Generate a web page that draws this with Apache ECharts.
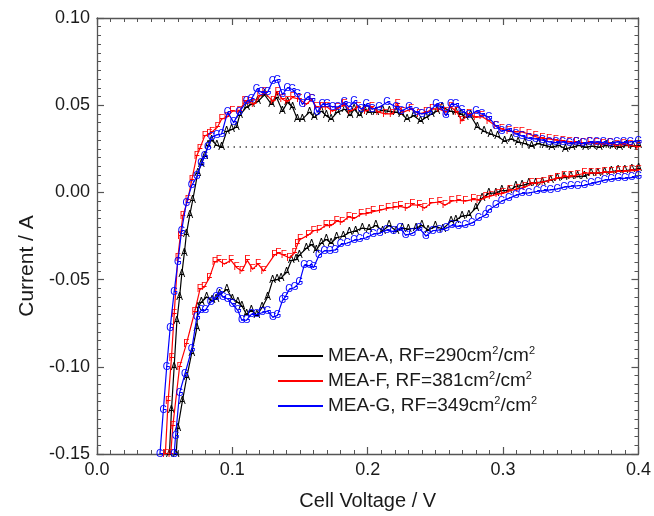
<!DOCTYPE html>
<html>
<head>
<meta charset="utf-8">
<script src="https://cdn.jsdelivr.net/npm/echarts@6/dist/echarts.min.js"></script>
<style>
  html, body { margin: 0; padding: 0; background: #fff; }
  #chart { width: 654px; height: 516px; }
</style>
</head>
<body>
<div id="chart"></div>
<script>
const seriesNames = ["MEA-A", "MEA-F", "MEA-G"];
const roughness = [290, 381, 349];
const markerLetters = ["A", "F", "G"];
const seriesColors = ["#000000", "#ff0000", "#0000ff"];

// MEA-A, [voltage, current]: forward sweep up to 0.4 V, then the return sweep
const meaAForward = [
  [0.0535,-0.15],[0.0550,-0.125],[0.0570,-0.10],[0.0590,-0.074],[0.0610,-0.060],[0.0626,-0.047],[0.0645,-0.035],
  [0.0660,-0.024],[0.0685,-0.013],[0.0707,-0.0045],[0.0744,0.011],[0.0770,0.016],[0.0796,0.021],[0.0820,0.027],
  [0.0847,0.030],[0.0885,0.027],[0.0920,0.026],[0.0958,0.035],[0.0994,0.036],[0.1030,0.0375],[0.1053,0.044],
  [0.1105,0.049],[0.1142,0.0505],[0.1186,0.052],[0.1238,0.056],[0.1289,0.0505],[0.1326,0.0545],[0.1370,0.0466],
  [0.1407,0.0517],[0.1444,0.049],[0.1480,0.042],[0.1517,0.042],[0.1570,0.046],[0.1606,0.043],[0.1657,0.0466],
  [0.1694,0.044],[0.1730,0.042],[0.1775,0.046],[0.1830,0.0477],[0.1870,0.044],[0.1900,0.0477],[0.1940,0.044],
  [0.1975,0.0477],[0.2010,0.046],[0.2060,0.046],[0.2110,0.047],[0.2160,0.0465],[0.2210,0.046],[0.2250,0.045],
  [0.2290,0.042],[0.2340,0.044],[0.2390,0.041],[0.2430,0.043],[0.2470,0.045],[0.2510,0.0466],[0.2550,0.049],
  [0.2610,0.0466],[0.2650,0.046],[0.2690,0.045],[0.2720,0.043],[0.2760,0.044],[0.2810,0.0375],[0.2860,0.035],
  [0.2910,0.0335],[0.2960,0.032],[0.3010,0.0295],[0.3060,0.0307],[0.3110,0.029],[0.3160,0.028],[0.3210,0.0267],
  [0.3260,0.028],[0.3310,0.027],[0.3360,0.026],[0.3410,0.027],[0.3460,0.025],[0.3510,0.026],[0.3560,0.027],
  [0.3610,0.026],[0.3660,0.0265],[0.3710,0.026],[0.3760,0.027],[0.3810,0.0265],[0.3860,0.026],[0.3910,0.027],
  [0.3960,0.0265],[0.4000,0.027]
];
const meaAReturn = [
  [0.4000,0.0136],[0.3950,0.013],[0.3900,0.0125],[0.3850,0.0125],[0.3800,0.012],[0.3750,0.0115],[0.3700,0.011],
  [0.3650,0.011],[0.3600,0.0095],[0.3550,0.009],[0.3500,0.009],[0.3450,0.0085],[0.3400,0.008],[0.3350,0.007],
  [0.3290,0.006],[0.3240,0.0055],[0.3190,0.005],[0.3140,0.004],[0.3094,0.0034],[0.3042,0.001],[0.2990,0.001],
  [0.2946,-0.0003],[0.2895,-0.0006],[0.2844,-0.0034],[0.2799,-0.009],[0.2747,-0.013],[0.2696,-0.0136],
  [0.2650,-0.016],[0.2615,-0.0165],[0.2555,-0.021],[0.2500,-0.0195],[0.2445,-0.0216],[0.2400,-0.019],
  [0.2357,-0.0205],[0.2300,-0.021],[0.2255,-0.0205],[0.2210,-0.022],[0.2158,-0.019],[0.2110,-0.022],
  [0.2060,-0.019],[0.2010,-0.021],[0.1960,-0.0205],[0.1910,-0.022],[0.1864,-0.023],[0.1820,-0.025],
  [0.1770,-0.026],[0.1730,-0.029],[0.1694,-0.027],[0.1657,-0.029],[0.1620,-0.033],[0.1585,-0.030],
  [0.1547,-0.032],[0.1495,-0.036],[0.1470,-0.0386],[0.1436,-0.039],[0.1400,-0.046],[0.1360,-0.049],
  [0.1330,-0.050],[0.1297,-0.0506],[0.1260,-0.060],[0.1220,-0.066],[0.1180,-0.0705],[0.1140,-0.0676],
  [0.1105,-0.070],[0.1070,-0.065],[0.1040,-0.063],[0.1000,-0.061],[0.0960,-0.0557],[0.0906,-0.0585],
  [0.0880,-0.061],[0.0850,-0.062],[0.0810,-0.060],[0.0770,-0.063],[0.0744,-0.066],[0.0737,-0.078],
  [0.0700,-0.092],[0.0663,-0.106],[0.0630,-0.120],[0.0597,-0.135],[0.0585,-0.15]
];

// MEA-F
const meaFForward = [
  [0.0505,-0.15],[0.0525,-0.12],[0.0550,-0.095],[0.0570,-0.070],[0.0597,-0.0375],[0.0615,-0.025],[0.0634,-0.0136],
  [0.0670,-0.0045],[0.0700,0.007],[0.0737,0.021],[0.0759,0.025],[0.0796,0.0324],[0.0830,0.0335],[0.0850,0.0347],
  [0.0890,0.0375],[0.0920,0.042],[0.0958,0.043],[0.1000,0.0466],[0.1053,0.0466],[0.1090,0.052],[0.1127,0.0517],
  [0.1160,0.0505],[0.1200,0.055],[0.1238,0.0574],[0.1300,0.052],[0.1333,0.0574],[0.1370,0.0534],[0.1407,0.052],
  [0.1444,0.0545],[0.1495,0.0534],[0.1547,0.0505],[0.1584,0.0534],[0.1620,0.049],[0.1665,0.049],[0.1700,0.049],
  [0.1738,0.0466],[0.1775,0.048],[0.1827,0.0505],[0.1870,0.0466],[0.1930,0.049],[0.1990,0.0466],[0.2030,0.049],
  [0.2080,0.046],[0.2130,0.045],[0.2180,0.045],[0.2220,0.0505],[0.2260,0.046],[0.2320,0.0477],[0.2380,0.045],
  [0.2430,0.046],[0.2475,0.0477],[0.2530,0.0477],[0.2578,0.046],[0.2615,0.049],[0.2660,0.046],[0.2696,0.041],
  [0.2748,0.045],[0.2800,0.043],[0.2843,0.0435],[0.2895,0.041],[0.2947,0.038],[0.2990,0.0364],[0.3042,0.035],
  [0.3094,0.0347],[0.3138,0.0347],[0.3190,0.0335],[0.3240,0.032],[0.3290,0.031],[0.3340,0.0307],[0.3390,0.030],
  [0.3440,0.0295],[0.3490,0.029],[0.3540,0.0285],[0.3590,0.028],[0.3640,0.0285],[0.3690,0.028],[0.3740,0.0275],
  [0.3790,0.028],[0.3840,0.027],[0.3890,0.0275],[0.3940,0.027],[0.4000,0.026]
];
const meaFReturn = [
  [0.4000,0.0125],[0.3950,0.0125],[0.3900,0.012],[0.3850,0.012],[0.3800,0.0115],[0.3750,0.0115],[0.3700,0.011],
  [0.3650,0.011],[0.3600,0.011],[0.3550,0.010],[0.3500,0.009],[0.3450,0.009],[0.3400,0.008],[0.3350,0.007],
  [0.3300,0.006],[0.3260,0.0055],[0.3210,0.005],[0.3160,0.003],[0.3110,0.002],[0.3050,0.001],[0.3000,-0.0006],
  [0.2960,-0.001],[0.2910,-0.002],[0.2870,-0.003],[0.2820,-0.0045],[0.2780,-0.004],[0.2720,-0.005],
  [0.2670,-0.0045],[0.2620,-0.005],[0.2570,-0.0074],[0.2530,-0.0055],[0.2470,-0.006],[0.2420,-0.009],
  [0.2380,-0.0075],[0.2330,-0.007],[0.2290,-0.009],[0.2240,-0.008],[0.2200,-0.0085],[0.2150,-0.009],
  [0.2100,-0.010],[0.2040,-0.011],[0.2000,-0.012],[0.1950,-0.0125],[0.1900,-0.015],[0.1860,-0.014],
  [0.1810,-0.017],[0.1770,-0.0165],[0.1730,-0.019],[0.1690,-0.019],[0.1640,-0.0215],[0.1600,-0.022],
  [0.1560,-0.0245],[0.1500,-0.027],[0.1480,-0.030],[0.1460,-0.0347],[0.1420,-0.0375],[0.1380,-0.036],
  [0.1340,-0.0347],[0.1310,-0.036],[0.1230,-0.045],[0.1190,-0.041],[0.1150,-0.044],[0.1110,-0.039],
  [0.1070,-0.045],[0.1030,-0.043],[0.0990,-0.039],[0.0940,-0.041],[0.0900,-0.039],[0.0870,-0.040],
  [0.0830,-0.049],[0.0790,-0.0545],[0.0760,-0.0557],[0.0720,-0.069],[0.0660,-0.087],[0.0610,-0.100],
  [0.0560,-0.134],[0.0545,-0.15]
];

// MEA-G
const meaGForward = [
  [0.0465,-0.15],[0.0490,-0.125],[0.0515,-0.10],[0.0540,-0.078],[0.0570,-0.057],[0.0597,-0.04],[0.0625,-0.022],
  [0.0660,-0.006],[0.0700,0.004],[0.0737,0.009],[0.0770,0.017],[0.0796,0.021],[0.0820,0.026],[0.0847,0.0318],
  [0.0885,0.033],[0.0920,0.0335],[0.0965,0.046],[0.1010,0.040],[0.1050,0.046],[0.1105,0.052],[0.1140,0.0534],
  [0.1180,0.059],[0.1215,0.0574],[0.1260,0.0574],[0.1297,0.0636],[0.1333,0.0645],[0.1370,0.056],[0.1407,0.060],
  [0.1444,0.059],[0.1480,0.056],[0.1517,0.0505],[0.1554,0.0545],[0.1590,0.0534],[0.1627,0.046],[0.1665,0.0505],
  [0.1700,0.0505],[0.1740,0.049],[0.1780,0.049],[0.1827,0.0517],[0.1860,0.049],[0.1900,0.052],[0.1952,0.0477],
  [0.1990,0.0505],[0.2033,0.0477],[0.2085,0.049],[0.2144,0.0517],[0.2210,0.049],[0.2247,0.0466],[0.2306,0.049],
  [0.2357,0.046],[0.2400,0.045],[0.2453,0.046],[0.2505,0.0505],[0.2541,0.049],[0.2578,0.044],[0.2615,0.0505],
  [0.2652,0.0505],[0.2696,0.047],[0.2748,0.044],[0.2800,0.0466],[0.2843,0.045],[0.2895,0.043],[0.2947,0.038],
  [0.2990,0.035],[0.3042,0.0364],[0.3094,0.0335],[0.3138,0.0324],[0.3190,0.031],[0.3240,0.0307],[0.3290,0.030],
  [0.3340,0.029],[0.3390,0.0285],[0.3440,0.029],[0.3490,0.028],[0.3540,0.0285],[0.3590,0.028],[0.3640,0.0285],
  [0.3690,0.029],[0.3740,0.0285],[0.3790,0.028],[0.3840,0.029],[0.3890,0.0285],[0.3940,0.029],[0.4000,0.0295]
];
const meaGReturn = [
  [0.4000,0.009],[0.3950,0.0085],[0.3900,0.008],[0.3850,0.008],[0.3800,0.0075],[0.3750,0.007],[0.3700,0.006],
  [0.3650,0.005],[0.3600,0.004],[0.3550,0.0038],[0.3500,0.0034],[0.3450,0.003],[0.3400,0.002],[0.3350,0.0015],
  [0.3300,0.001],[0.3250,0.0005],[0.3190,-0.0003],[0.3138,-0.0006],[0.3094,-0.0017],[0.3042,-0.0034],
  [0.2990,-0.005],[0.2947,-0.0074],[0.2895,-0.010],[0.2870,-0.013],[0.2820,-0.015],[0.2770,-0.0175],
  [0.2720,-0.019],[0.2670,-0.0195],[0.2620,-0.019],[0.2580,-0.0205],[0.2530,-0.0215],[0.2480,-0.022],
  [0.2430,-0.025],[0.2380,-0.0205],[0.2330,-0.0235],[0.2280,-0.0245],[0.2240,-0.0205],[0.2190,-0.0225],
  [0.2140,-0.0216],[0.2090,-0.0233],[0.2040,-0.024],[0.1990,-0.026],[0.1940,-0.027],[0.1900,-0.0275],
  [0.1850,-0.029],[0.1800,-0.030],[0.1760,-0.033],[0.1720,-0.0335],[0.1680,-0.0335],[0.1640,-0.036],
  [0.1600,-0.043],[0.1570,-0.042],[0.1530,-0.042],[0.1495,-0.0517],[0.1460,-0.0545],[0.1420,-0.0557],
  [0.1390,-0.060],[0.1370,-0.062],[0.1333,-0.0705],[0.1300,-0.0716],[0.1260,-0.068],[0.1220,-0.069],
  [0.1180,-0.070],[0.1140,-0.070],[0.1105,-0.0733],[0.1070,-0.0733],[0.1040,-0.0676],[0.1000,-0.064],
  [0.0965,-0.061],[0.0930,-0.060],[0.0906,-0.0574],[0.0880,-0.060],[0.0840,-0.063],[0.0800,-0.0676],
  [0.0770,-0.0676],[0.0737,-0.0716],[0.0700,-0.090],[0.0650,-0.104],[0.0610,-0.115],[0.0580,-0.140],
  [0.0570,-0.15]
];

const dottedBaseline = [[0.092, 0.026], [0.4, 0.026]];

const xTicks = { min: 0, max: 0.4, step: 0.1 };
const yTicks = { min: -0.15, max: 0.10, step: 0.05 };

const FONT = "Liberation Sans, Arial, sans-serif";
const chart = echarts.init(document.getElementById("chart"));

function frameAxis(position, range, decimals, showLabels) {
  return {
    type: "value",
    position,
    min: range.min,
    max: range.max,
    interval: range.step,
    axisLine: { show: true, onZero: false, lineStyle: { color: "#555", width: 1.3 } },
    axisTick: { show: true, inside: true, length: 7, lineStyle: { color: "#555", width: 1.2 } },
    minorTick: { show: true, splitNumber: 10, length: 4, lineStyle: { color: "#555", width: 1 } },
    splitLine: { show: false },
    axisLabel: {
      show: showLabels,
      color: "#1a1a1a",
      fontSize: 18,
      fontFamily: FONT,
      margin: 7,
      formatter: (v) => v.toFixed(decimals)
    }
  };
}

// a gap between the two sweeps so the turn at 0.4 V is not drawn over the frame
const sweeps = [
  meaAForward.concat([["-", "-"]], meaAReturn),
  meaFForward.concat([["-", "-"]], meaFReturn),
  meaGForward.concat([["-", "-"]], meaGReturn)
];

const curveSeries = sweeps.map((points, i) => ({
  name: seriesNames[i],
  type: "line",
  data: points,
  symbol: "circle",
  symbolSize: 1,
  showSymbol: true,
  connectNulls: false,
  lineStyle: { color: seriesColors[i], width: 1.2 },
  itemStyle: { color: seriesColors[i] },
  label: {
    show: true,
    position: "inside",
    formatter: markerLetters[i],
    color: seriesColors[i],
    fontSize: 10,
    fontFamily: FONT
  },
  emphasis: { disabled: true },
  z: 2 + i
}));

chart.setOption({
  animation: false,
  backgroundColor: "#ffffff",
  grid: { left: 97, right: 14, top: 18, bottom: 58 },
  xAxis: [
    Object.assign(frameAxis("bottom", xTicks, 1, true), {
      name: "Cell Voltage / V",
      nameLocation: "middle",
      nameGap: 37,
      nameTextStyle: { fontSize: 20, fontFamily: FONT, color: "#1a1a1a" }
    }),
    frameAxis("top", xTicks, 1, false)
  ],
  yAxis: [
    Object.assign(frameAxis("left", yTicks, 2, true), {
      name: "Current / A",
      nameLocation: "middle",
      nameGap: 56,
      nameTextStyle: { fontSize: 21, fontFamily: FONT, color: "#1a1a1a", padding: [0, 60, 0, 0] }
    }),
    frameAxis("right", yTicks, 2, false)
  ],
  legend: {
    data: seriesNames,
    orient: "vertical",
    left: 272,
    top: 340,
    itemWidth: 45,
    itemHeight: 10,
    itemGap: 3,
    itemStyle: { opacity: 0 },
    textStyle: {
      fontSize: 19,
      fontFamily: FONT,
      color: "#1a1a1a",
      lineHeight: 22,
      rich: {
        sup: { fontSize: 11, fontFamily: FONT, color: "#1a1a1a", verticalAlign: "top", lineHeight: 22, padding: [0, 0, 0, 0] }
      }
    },
    formatter: (name) => {
      const i = seriesNames.indexOf(name);
      return name + ", RF=" + roughness[i] + "cm{sup|2}/cm{sup|2}";
    }
  },
  series: curveSeries.concat([{
    name: "baseline",
    type: "line",
    data: dottedBaseline,
    symbol: "none",
    lineStyle: { color: "#444", width: 1.5, type: [1.5, 4.5] },
    emphasis: { disabled: true },
    z: 1
  }])
});
</script>
</body>
</html>
